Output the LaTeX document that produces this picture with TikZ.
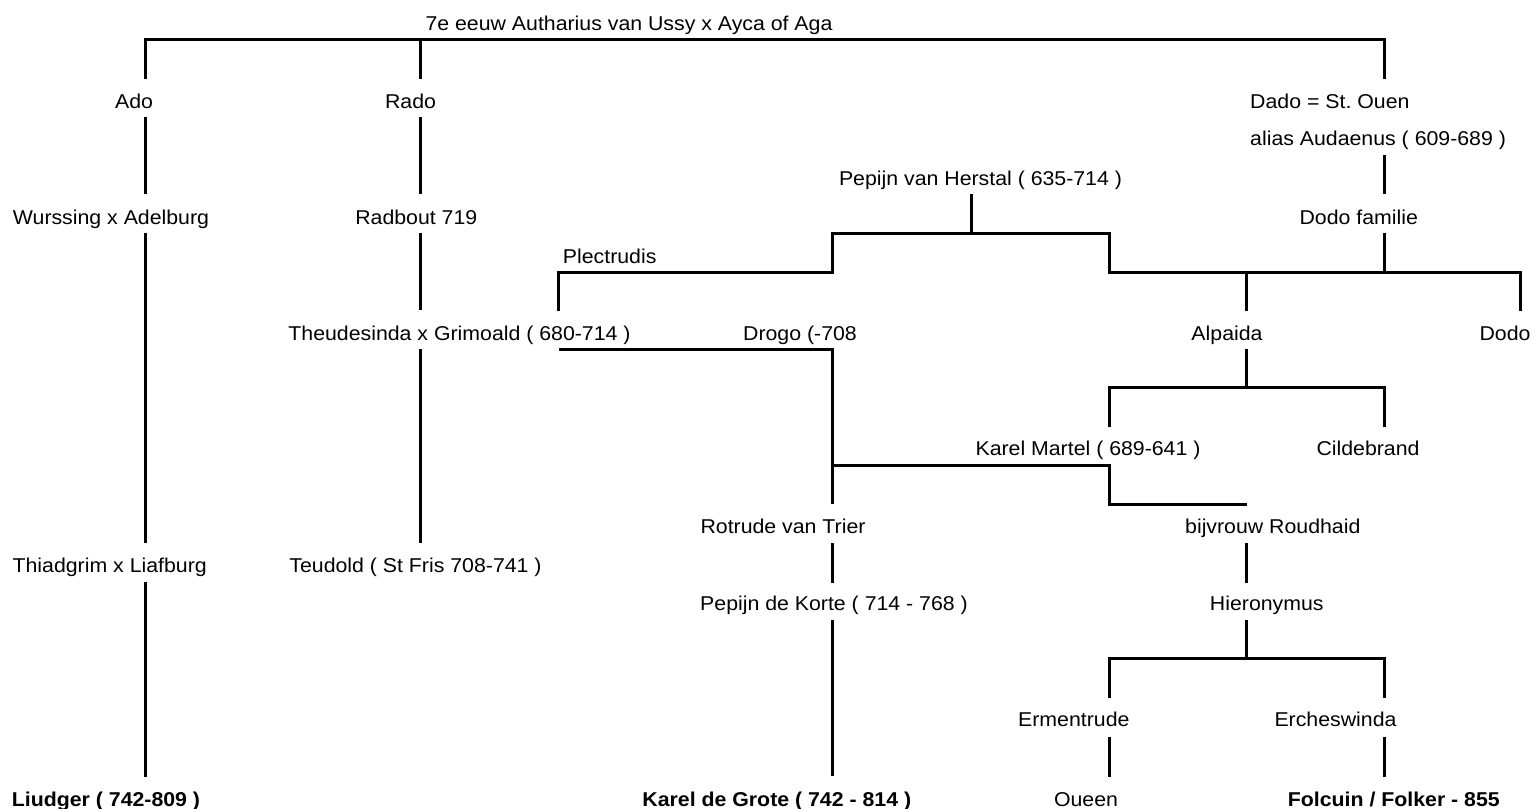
\documentclass[tikz,border=0pt]{standalone}
\usepackage{fontspec}
\setmainfont{Liberation Sans}[FakeStretch=1.065]
\frenchspacing
\begin{document}
\begin{tikzpicture}[x=1pt,y=-1pt,
  lbl/.style={inner sep=0pt, anchor=base, font=\fontsize{20}{24}\selectfont},
  lblw/.style={lbl, anchor=base west},
  bld/.style={lbl, font=\fontsize{20}{24}\selectfont\bfseries},
  conn/.style={line width=3pt, line join=miter}]
\useasboundingbox (0,0) rectangle (1535,809);
% texts
\node[lbl] (top) at (629,30.7) {7e eeuw Autharius van Ussy x Ayca of Aga};
\node[lbl] (ado) at (134,108) {Ado};
\node[lbl] (rado) at (410.5,108) {Rado};
\node[lblw] (dado) at (1250,108) {Dado = St. Ouen};
\node[lblw] (alias) at (1250,145.7) {alias Audaenus ( 609-689 )};
\node[lbl] (pepijn) at (980.5,185) {Pepijn van Herstal ( 635-714 )};
\node[lbl] (wurs) at (111,224) {Wurssing x Adelburg};
\node[lbl] (radb) at (416.3,224) {Radbout 719};
\node[lbl] (dodof) at (1358.8,224) {Dodo familie};
\node[lbl] (plec) at (609.7,263.3) {Plectrudis};
\node[lbl] (theu) at (459.5,340) {Theudesinda x Grimoald ( 680-714 )};
\node[lbl] (drogo) at (800,340) {Drogo (-708};
\node[lbl] (alpa) at (1227,340) {Alpaida};
\node[lbl] (dodo) at (1505,340) {Dodo};
\node[lbl] (karel) at (1088,455) {Karel Martel ( 689-641 )};
\node[lbl] (cild) at (1368,455) {Cildebrand};
\node[lbl] (rotr) at (783,533.3) {Rotrude van Trier};
\node[lbl] (bijv) at (1272.8,533.3) {bijvrouw Roudhaid};
\node[lbl] (thia) at (109.7,572.3) {Thiadgrim x Liafburg};
\node[lbl] (teud) at (415.5,572.3) {Teudold ( St Fris 708-741 )};
\node[lbl] (pkort) at (834,610.7) {Pepijn de Korte ( 714 - 768 )};
\node[lbl] (hier) at (1266.8,610.7) {Hieronymus};
\node[lbl] (erme) at (1073.8,726) {Ermentrude};
\node[lbl] (erch) at (1335.5,726) {Ercheswinda};
\node[bld] (liud) at (106,806) {Liudger ( 742-809 )};
\node[bld] (kdg) at (776.8,806) {Karel de Grote ( 742 - 814 )};
\node[lbl] (queen) at (1086,806) {Oueen};
\node[bld] (folc) at (1393.8,806) {Folcuin / Folker - 855};
% connector points
\coordinate (tA) at (145.4,39.3);  \coordinate (tR) at (420.4,39.3);  \coordinate (tD) at (1384,39.3);
\coordinate (adoN) at (145.4,78.7); \coordinate (adoS) at (145.4,116.7);
\coordinate (wursN) at (145.4,194.3); \coordinate (wursS) at (145.4,233.3);
\coordinate (thiaN) at (145.4,543.3); \coordinate (thiaS) at (145.4,581.7);
\coordinate (liudN) at (145.4,776.7);
\coordinate (radoN) at (420.4,78.7); \coordinate (radoS) at (420.4,116.7);
\coordinate (radbN) at (420.4,194.3); \coordinate (radbS) at (420.4,233.3);
\coordinate (theuN) at (420.4,310); \coordinate (theuS) at (420.4,349.3);
\coordinate (teudN) at (420.4,543.3);
\coordinate (dadoN) at (1384,78.7); \coordinate (aliasS) at (1384,155);
\coordinate (dodofN) at (1384,194.3); \coordinate (dodofS) at (1384,233.3);
\coordinate (pepS) at (971,194.3); \coordinate (pepJ) at (971,233.3);
\coordinate (plecN) at (558.7,311); \coordinate (plecC) at (558.7,272.7);
\coordinate (b1) at (832.5,272.7); \coordinate (b2) at (832.5,233.3);
\coordinate (b3) at (1109,233.3); \coordinate (b4) at (1109,272.7);
\coordinate (dodJ) at (1384,272.7);
\coordinate (b5) at (1520,272.7); \coordinate (dodoN) at (1520,311);
\coordinate (alpJ) at (1246,272.7); \coordinate (alpN) at (1246,311);
\coordinate (drS) at (558.7,349.3); \coordinate (drC) at (832.5,349.3);
\coordinate (rotN) at (832.5,504);
\coordinate (kmJ) at (832.5,465); \coordinate (kmC) at (1109,465);
\coordinate (kmC2) at (1109,504.3); \coordinate (bijN) at (1246.5,504.3);
\coordinate (alpS) at (1246,349.3); \coordinate (alpJ2) at (1246,387.3);
\coordinate (c1) at (1109,387.3); \coordinate (c2) at (1384,387.3);
\coordinate (karN) at (1109,427.3); \coordinate (cilN) at (1384,427.3);
\coordinate (rotS) at (832.5,543.3); \coordinate (pkN) at (832.5,582.7);
\coordinate (pkS) at (832.5,620); \coordinate (kdgN) at (832.5,775.7);
\coordinate (bijS) at (1246,543.3); \coordinate (hierN) at (1246,582.7);
\coordinate (hierS) at (1246,620); \coordinate (hJ) at (1246,658.3);
\coordinate (h1) at (1109,658.3); \coordinate (h2) at (1384,658.3);
\coordinate (ermN) at (1109,698.3); \coordinate (ercN) at (1384,698.3);
\coordinate (ermS) at (1109,737.3); \coordinate (queN) at (1109,776.7);
\coordinate (ercS) at (1384,737.3); \coordinate (folN) at (1384,776.7);
% connectors
\draw[conn] (adoN) -- (tA) -- (tD) -- (dadoN);
\draw[conn] (tR) -- (radoN);
\draw[conn] (adoS) -- (wursN);
\draw[conn] (wursS) -- (thiaN);
\draw[conn] (thiaS) -- (liudN);
\draw[conn] (radoS) -- (radbN);
\draw[conn] (radbS) -- (theuN);
\draw[conn] (theuS) -- (teudN);
\draw[conn] (aliasS) -- (dodofN);
\draw[conn] (dodofS) -- (dodJ);
\draw[conn] (pepS) -- (pepJ);
\draw[conn] (plecN) -- (plecC) -- (b1) -- (b2) -- (b3) -- (b4) -- (b5) -- (dodoN);
\draw[conn] (alpJ) -- (alpN);
\draw[conn] (drS) -- (drC) -- (rotN);
\draw[conn] (kmJ) -- (kmC) -- (kmC2) -- (bijN);
\draw[conn] (alpS) -- (alpJ2);
\draw[conn] (karN) -- (c1) -- (c2) -- (cilN);
\draw[conn] (rotS) -- (pkN);
\draw[conn] (pkS) -- (kdgN);
\draw[conn] (bijS) -- (hierN);
\draw[conn] (hierS) -- (hJ);
\draw[conn] (ermN) -- (h1) -- (h2) -- (ercN);
\draw[conn] (ermS) -- (queN);
\draw[conn] (ercS) -- (folN);
\end{tikzpicture}
\end{document}
